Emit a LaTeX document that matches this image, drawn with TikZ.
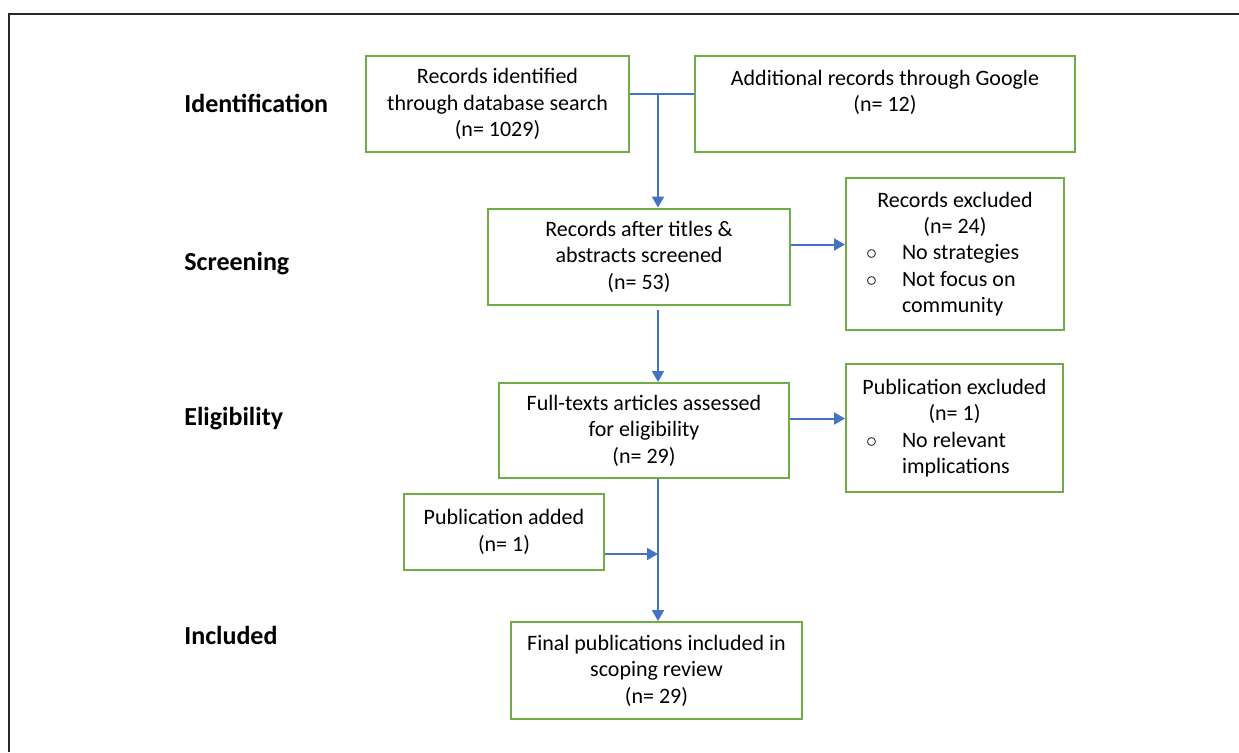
\documentclass[tikz,border=0pt]{standalone}
\usepackage{fontspec}
\setmainfont{Carlito}
\usepackage{tikz}
\usetikzlibrary{arrows.meta, positioning, calc}
\definecolor{boxgreen}{RGB}{112, 173, 71}
\definecolor{flowblue}{RGB}{68, 114, 196}
\definecolor{framegray}{RGB}{40, 40, 40}

\tikzset{
  stagebox/.style={draw=boxgreen, line width=1pt, fill=white, inner sep=0pt,
    align=center, font=\fontsize{11}{13.2}\selectfont},
  stagelabel/.style={anchor=west, inner sep=0pt, font=\fontsize{13}{15}\selectfont\bfseries},
  flowline/.style={draw=flowblue, line width=1pt},
  flowarrow/.style={flowline, -{Triangle[length=5.5pt, width=6pt]}}
}
\newcommand{\bulletline}[2]{\makebox[#1][l]{\hspace{10pt}\makebox[18pt][l]{$\circ$}#2}}
\newcommand{\plainline}[2]{\makebox[#1][l]{\hspace{28pt}#2}}

\begin{document}
\begin{tikzpicture}[x=0.5pt, y=-0.5pt]
  \useasboundingbox (0,0) rectangle (1239,752);
  % frame
  \draw[framegray, line width=0.75pt] (9,752) -- (9,14) -- (1239,14);

  % stage labels
  \node[stagelabel] (lblident) at (184,103) {Identification};
  \node[stagelabel] (lblscreen) at (184,264) {Screening};
  \node[stagelabel] (lbleligible) at (184,419) {Eligibility};
  \node[stagelabel] (lblincluded) at (184,635) {Included};

  % boxes
  \node[stagebox, minimum width=131.5pt, minimum height=48pt] (ident) at (497.5,104)
    {Records identified\\through database search\\(n= 1029)};
  \node[stagebox, minimum width=190pt, minimum height=48pt] (google) at (885,104)
    {Additional records through Google\\(n= 12)\\\mbox{}};
  \node[stagebox, minimum width=151pt, minimum height=48pt] (screened) at (639,256.5)
    {Records after titles \&\\abstracts screened\\(n= 53)};
  \node[stagebox, minimum width=109pt, minimum height=76pt] (excluded) at (955,254)
    {Records excluded\\(n= 24)\\\bulletline{109pt}{No strategies}\\
     \bulletline{109pt}{Not focus on}\\\plainline{109pt}{community}};
  \node[stagebox, minimum width=145pt, minimum height=47.5pt] (fulltext) at (644,430.5)
    {Full-texts articles assessed\\for eligibility\\(n= 29)};
  \node[stagebox, minimum width=108.5pt, minimum height=64pt] (pubexcl) at (954.5,428)
    {Publication excluded\\(n= 1)\\\bulletline{108.5pt}{No relevant}\\
     \plainline{108.5pt}{implications}};
  \node[stagebox, minimum width=100pt, minimum height=38pt] (pubadded) at (504,532)
    {Publication added\\(n= 1)};
  \node[stagebox, minimum width=145.5pt, minimum height=48.5pt] (final) at (656.5,670.5)
    {Final publications included in\\scoping review\\(n= 29)};

  % connectors
  \coordinate (split) at (658,94);
  \draw[flowline] (split -| ident.east) -- (split -| google.west);
  \draw[flowarrow] (split) -- (split |- screened.north);
  \coordinate (scrout) at ([yshift=6pt]screened.east);
  \draw[flowarrow] (scrout) -- (scrout -| excluded.west);
  \draw[flowarrow] ([yshift=-2pt]split |- screened.south) -- (split |- fulltext.north);
  \coordinate (fullout) at ([yshift=6pt]fulltext.east);
  \draw[flowarrow] (fullout) -- (fullout -| pubexcl.west);
  \draw[flowarrow] (split |- fulltext.south) -- (split |- final.north);
  \coordinate (addout) at ([yshift=-11pt]pubadded.east);
  \draw[flowarrow] (addout) -- (addout -| split);
\end{tikzpicture}
\end{document}
